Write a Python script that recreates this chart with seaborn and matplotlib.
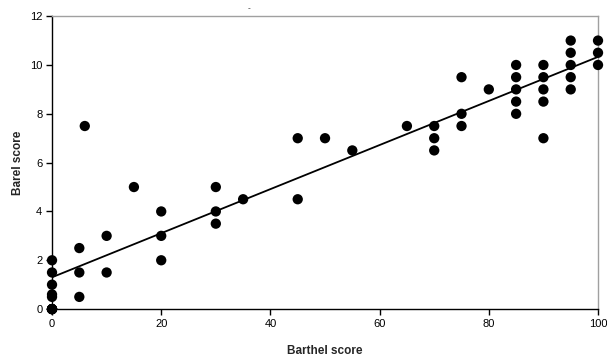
import numpy as np
import pandas as pd
import matplotlib
matplotlib.use("Agg")
import matplotlib.pyplot as plt
import seaborn as sns

# Barthel vs Barel scores
# (several patients overlap at 0/0, which pulls the fitted line down)
barthel = [0, 0, 0, 0, 0, 0, 0, 0, 0, 0,
           5, 5, 5, 6,
           10, 10, 15,
           20, 20, 20,
           30, 30, 30, 35,
           45, 45, 50, 55, 65,
           70, 70, 70,
           75, 75, 75, 80,
           85, 85, 85, 85, 85,
           90, 90, 90, 90, 90,
           95, 95, 95, 95, 95,
           100, 100, 100]
barel = [0, 0, 0, 0, 0, 0.5, 0.6, 1, 1.5, 2,
         2.5, 1.5, 0.5, 7.5,
         3, 1.5, 5,
         4, 3, 2,
         5, 4, 3.5, 4.5,
         7, 4.5, 7, 6.5, 7.5,
         7.5, 7, 6.5,
         9.5, 8, 7.5, 9,
         10, 9.5, 9, 8.5, 8,
         10, 9.5, 9, 8.5, 7,
         11, 10.5, 10, 9.5, 9,
         11, 10.5, 10]

df = pd.DataFrame({"Barthel score": barthel, "Barel score": barel})

sns.set_style("ticks")
plt.rcParams['font.family'] = ['Liberation Sans', 'DejaVu Sans']

fig = plt.figure(figsize=(6.07, 3.59), dpi=100)
ax = fig.add_axes([0.0857, 0.139, 0.8995, 0.816])

sns.regplot(data=df, x="Barthel score", y="Barel score", ax=ax, ci=None, truncate=True,
            scatter_kws={"s": 55, "color": "black", "edgecolor": "none", "alpha": 1, "zorder": 3, "clip_on": False},
            line_kws={"color": "black", "lw": 1.3, "zorder": 2})

ax.set_xlim(0, 100)
ax.set_ylim(0, 12)
ax.set_xticks(range(0, 101, 20))
ax.set_yticks(range(0, 13, 2))
ax.tick_params(axis="both", direction="out", length=4, width=1, labelsize=8, colors="black", pad=3,
               bottom=True, left=True, top=False, right=False)
for s in ["left", "bottom"]:
    ax.spines[s].set_color("black")
    ax.spines[s].set_linewidth(1)
for s in ["top", "right"]:
    ax.spines[s].set_visible(True)
    ax.spines[s].set_color("#a0a0a0")
    ax.spines[s].set_linewidth(1)

ax.set_xlabel("Barthel score", fontsize=8.5, fontweight="bold", labelpad=12)
ax.set_ylabel("Barel score", fontsize=8.5, fontweight="bold", labelpad=4)
fig.text(0.41, 0.975, "-", fontsize=6, ha="center", va="center")

fig.savefig("out.png", dpi=100)
